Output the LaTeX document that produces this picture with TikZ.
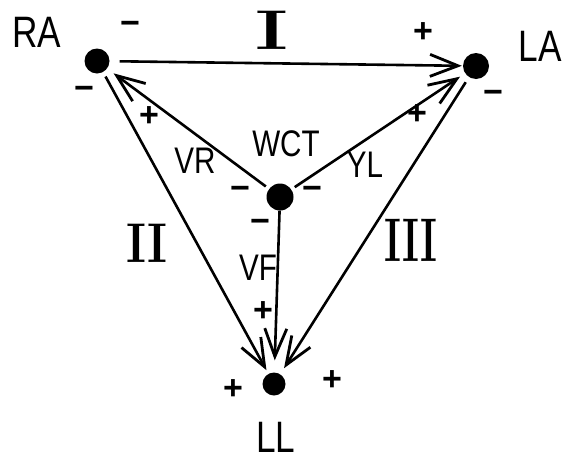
\documentclass[tikz,border=0pt]{standalone}
\usepackage{fontspec}
\setsansfont{Liberation Sans}
\usetikzlibrary{arrows.meta}
\newcommand{\sq}[1]{\scalebox{0.8}[1]{#1}}
\tikzset{
  dot/.style={circle,fill=black,draw=none,inner sep=0pt,minimum size=#1},
  biglab/.style={font=\sffamily\fontsize{44}{44}\selectfont,inner sep=0pt},
  midlab/.style={font=\sffamily\fontsize{37}{37}\selectfont,inner sep=0pt},
  numlab/.style={font=\rmfamily\bfseries\fontsize{56}{56}\selectfont,inner sep=0pt},
  sgn/.style={font=\sffamily\bfseries\fontsize{34}{34}\selectfont,inner sep=0pt},
  conn/.style={line width=2.6pt,-{Straight Barb[length=28pt,width=22pt,line width=2.8pt]}},
}
\begin{document}
\begin{tikzpicture}[x=1pt,y=-1pt]
\useasboundingbox (0,0) rectangle (568,461);
% dots
\node[dot=25pt] (RA) at (97,61) {};
\node[dot=26pt] (LA) at (476,66) {};
\node[dot=27pt] (WCT) at (280,197) {};
\node[dot=23pt] (LL) at (274,384) {};
% labels
\node[biglab] (tRA) at (37,32) {\sq{RA}};
\node[biglab] (tLA) at (540,46) {\sq{LA}};
\node[biglab] (tLL) at (276,437) {\sq{LL}};
\node[midlab] (tWCT) at (286,144) {\sq{WCT}};
\node[midlab] (tVR) at (195,161) {\sq{VR}};
\node[midlab] (tVL) at (365,165) {\sq{YL}};
\node[midlab] (tVF) at (258,268) {\sq{VF}};
% roman numerals
\node[numlab] (nI) at (272,30) {\scalebox{1.4}[1]{I}};
\node[numlab] (nII) at (147,243) {\scalebox{0.85}[1]{II}};
\node[numlab] (nIII) at (411,240) {\scalebox{0.72}[1.1]{III}};
% signs
\node[sgn] (s1) at (130,28) {−};
\node[sgn] (s2) at (84,93) {−};
\node[sgn] (s3) at (149,117) {+};
\node[sgn] (s4) at (423,33) {+};
\node[sgn] (s5) at (493,97) {−};
\node[sgn] (s6) at (417,115) {+};
\node[sgn] (s7) at (240,193) {−};
\node[sgn] (s8) at (312,193) {−};
\node[sgn] (s9) at (260,226) {−};
\node[sgn] (s10) at (263,312) {+};
\node[sgn] (s11) at (233,390) {+};
\node[sgn] (s12) at (332,381) {+};
% connectors
\draw[conn,shorten <=10pt,shorten >=1pt] (RA) -- (LA);
\draw[conn,shorten <=4pt,shorten >=8pt] (WCT) -- (RA);
\draw[conn,shorten <=4pt,shorten >=6pt] (WCT) -- (LA);
\draw[conn,shorten <=0pt,shorten >=12pt] (WCT) -- (LL);
\draw[conn,shorten <=5pt,shorten >=4pt] (RA) -- (LL);
\draw[conn,shorten <=6pt,shorten >=7pt] (LA) -- (LL);
\end{tikzpicture}
\end{document}
